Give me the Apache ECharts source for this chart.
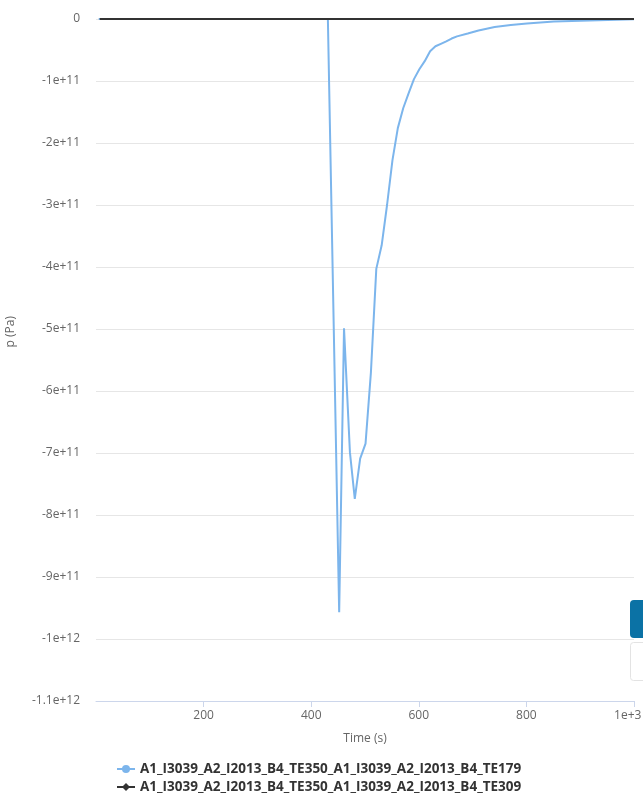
<!DOCTYPE html>
<html>
<head>
<meta charset="utf-8">
<script src="https://cdn.jsdelivr.net/npm/echarts@6/dist/echarts.min.js"></script>
<style>
html,body{margin:0;padding:0;background:#fff;}
#c{width:643px;height:804px;}
</style>
</head>
<body>
<div id="c"></div>
<script>
// Series names
const seriesNames = [
  'A1_I3039_A2_I2013_B4_TE350_A1_I3039_A2_I2013_B4_TE179',
  'A1_I3039_A2_I2013_B4_TE350_A1_I3039_A2_I2013_B4_TE309'
];
// Blue series: time (s) and pressure (Pa)
const timeA = [5, 431, 452, 461, 472, 481, 491, 501, 511, 521, 531, 541, 551, 561, 571, 581, 591, 601, 611, 621, 631, 641, 651, 661, 671, 691, 711, 741, 771, 801, 851, 901, 951, 1000];
const pA = [0, 0, -9.57e11, -4.99e11, -6.99e11, -7.74e11, -7.09e11, -6.85e11, -5.7e11, -4.03e11, -3.65e11, -3.0e11, -2.28e11, -1.76e11, -1.44e11, -1.2e11, -0.97e11, -0.81e11, -0.68e11, -0.52e11, -0.44e11, -0.4e11, -0.36e11, -0.315e11, -0.28e11, -0.234e11, -0.186e11, -0.13e11, -0.097e11, -0.073e11, -0.04e11, -0.027e11, -0.016e11, -0.005e11];
// Black series
const timeB = [7, 1000];
const pB = [0, 0];
// Axis ticks
const xTicks = [200, 400, 600, 800, 1000];
const yMin = -1.1e12, yMax = 0, yStep = 1e11;

const fontFam = '"Open Sans", "DejaVu Sans", sans-serif';
const chart = echarts.init(document.getElementById('c'), null, {renderer: 'canvas'});

function fmtY(v){
  if (Math.abs(v) < 1) return '0';
  return Number(v.toPrecision(6)).toExponential();
}
function fmtX(v){
  if (v === 1000) return '1e+3\u00a0\u00a0\u00a0\u00a0';
  return String(v);
}
const legendText = {color: '#333', fontSize: 13.5, fontWeight: 'bold', fontFamily: fontFam};

chart.setOption({
  animation: false,
  textStyle: {fontFamily: fontFam},
  grid: {left: 96, right: 9, top: 19, bottom: 103, containLabel: false, outerBoundsMode: 'none'},
  xAxis: {
    type: 'value', min: 0, max: 1000, interval: 200,
    name: 'Time (s)', nameLocation: 'middle', nameGap: 32,
    nameTextStyle: {color: '#666', fontSize: 12, fontFamily: fontFam},
    axisLine: {show: true, onZero: false, lineStyle: {color: '#ccd6eb', width: 1}},
    axisTick: {show: true, length: 6, lineStyle: {color: '#ccd6eb'}},
    splitLine: {show: false},
    axisLabel: {color: '#666', fontSize: 12, showMinLabel: false, margin: 9, formatter: fmtX}
  },
  yAxis: {
    type: 'value', min: yMin, max: yMax, interval: yStep,
    axisLine: {show: false},
    axisTick: {show: false},
    splitLine: {show: true, lineStyle: {color: '#e6e6e6', width: 1}},
    axisLabel: {color: '#666', fontSize: 12, margin: 16, formatter: fmtY}
  },
  legend: [
    {left: 116, top: 762, padding: 0, itemWidth: 18, itemHeight: 10,
     textStyle: legendText, data: [seriesNames[0]]},
    {left: 116, top: 780, padding: 0, itemWidth: 18, itemHeight: 10,
     textStyle: legendText, data: [seriesNames[1]]}
  ],
  graphic: [
    {type: 'text', left: 5, top: 316, rotation: Math.PI/2,
     style: {text: 'p (Pa)', fill: '#666', font: '12px ' + fontFam}},
    {type: 'rect', shape: {x: 630, y: 600, width: 24, height: 38, r: 4}, style: {fill: '#0b72a5'}},
    {type: 'rect', shape: {x: 630.5, y: 642.5, width: 24, height: 38, r: 3}, style: {fill: '#fff', stroke: '#e3e3e3'}}
  ],
  series: [
    {
      name: seriesNames[0], type: 'line',
      data: timeA.map((t, i) => [t, pA[i]]),
      showSymbol: false, symbol: 'circle', symbolSize: 7,
      lineStyle: {color: '#7cb5ec', width: 2},
      itemStyle: {color: '#7cb5ec'},
      z: 2
    },
    {
      name: seriesNames[1], type: 'line',
      data: timeB.map((t, i) => [t, pB[i]]),
      showSymbol: false, symbol: 'diamond', symbolSize: 7,
      lineStyle: {color: '#333333', width: 2},
      itemStyle: {color: '#333333'},
      z: 3
    }
  ]
});
</script>
</body>
</html>
